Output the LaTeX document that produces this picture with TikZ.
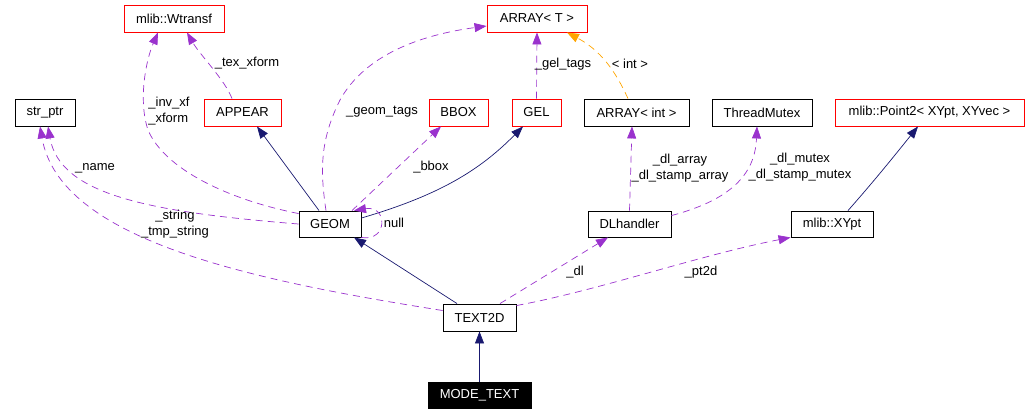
\documentclass[tikz,border=0pt]{standalone}
\usepackage{fontspec}
\setmainfont{Liberation Sans}
\usetikzlibrary{arrows.meta}
\definecolor{edgenavy}{HTML}{191970}
\definecolor{edgepurple}{HTML}{9A32CD}
\definecolor{edgeorange}{HTML}{FFA500}
\definecolor{boxred}{HTML}{FF0000}
\begin{document}
\begin{tikzpicture}[x=1pt,y=-1pt,
  font=\fontsize{13}{16}\selectfont,
  box/.style={draw=black,line width=0.9pt,fill=white,inner sep=0pt,minimum height=27pt},
  redbox/.style={box,draw=boxred},
  tip/.style={-{Triangle[length=12pt,width=9pt]}},
  inherit/.style={tip,draw=edgenavy,line width=0.7pt},
  usage/.style={tip,draw=edgepurple,line width=0.7pt,dash pattern=on 7pt off 5pt},
  templ/.style={tip,draw=edgeorange,line width=0.7pt,dash pattern=on 7pt off 5pt},
  lbl/.style={inner sep=0pt,align=center},
  lbll/.style={inner sep=0pt,align=left}]
\path[use as bounding box] (0,0) rectangle (1029,413);

% nodes
\node[redbox,minimum width=100pt] (wtransf) at (174,18.5) {mlib::Wtransf};
\node[redbox,minimum width=100pt] (arrayT) at (537,18.5) {ARRAY< T >};
\node[box,minimum width=60pt] (strptr) at (45,112.5) {str\_ptr};
\node[redbox,minimum width=77pt] (appear) at (242.5,112.5) {APPEAR};
\node[redbox,minimum width=59pt] (bbox) at (458.5,112.5) {BBOX};
\node[redbox,minimum width=49pt] (gel) at (536.5,112.5) {GEL};
\node[box,minimum width=105pt] (arrayint) at (636.5,112.5) {ARRAY< int >};
\node[box,minimum width=100pt] (threadmutex) at (762,112.5) {ThreadMutex};
\node[redbox,minimum width=189pt] (point2) at (929.5,112.5) {mlib::Point2< XYpt, XYvec >};
\node[box,minimum width=62pt,minimum height=26pt] (geom) at (330,224) {GEOM};
\node[box,minimum width=83pt,minimum height=26pt] (dlhandler) at (629.5,224) {DLhandler};
\node[box,minimum width=82pt,minimum height=26pt] (xypt) at (832,224) {mlib::XYpt};
\node[box,minimum width=73pt] (text2d) at (479.5,317.5) {TEXT2D};
\node[box,fill=black,text=white,minimum width=103pt,minimum height=26pt] (modetext) at (479.5,395) {MODE\_TEXT};

% inheritance edges
\draw[inherit] (modetext.north) -- (text2d.south);
\draw[inherit] ([xshift=-22.5pt]text2d.north) -- ([xshift=24pt]geom.south);
\draw[inherit] ([xshift=-11pt]geom.north) -- ([xshift=14.5pt]appear.south);
\draw[inherit] ([yshift=6pt]geom.east) .. controls (440,195) and (480,170) .. ([xshift=-13.5pt]gel.south);
\draw[inherit] ([xshift=16pt]xypt.north) .. controls (875,180) and (895,155) .. ([xshift=-11.5pt]point2.south);

% usage edges
\draw[usage] ([yshift=-3pt]geom.north west) .. controls (230,200) and (165,170) .. (148,130)
  .. controls (138,100) and (146,60) .. ([xshift=-16pt]wtransf.south);
\draw[usage] ([xshift=-10.5pt]appear.north) .. controls (225,80) and (200,55) .. ([xshift=13pt]wtransf.south);
\draw[usage] (geom.west) .. controls (150,212) and (60,195) .. ([xshift=3pt]strptr.south);
\draw[usage] ([yshift=7pt]text2d.west) .. controls (250,280) and (60,240) .. ([xshift=-5pt]strptr.south);
\draw[usage] ([xshift=-4pt]geom.north) .. controls (320,170) and (320,140) .. (340,100)
  .. controls (365,55) and (420,35) .. ([yshift=-7.5pt]arrayT.west);
\draw[usage] ([xshift=22pt]geom.north) -- ([xshift=-17.5pt]bbox.south);
\draw[usage] (geom.south east) .. controls (388,242) and (388,205) .. ([xshift=24pt]geom.north);
\draw[usage] (gel.north) -- (arrayT.south);
\draw[usage] ([xshift=20.5pt]text2d.north) -- ([xshift=-21.5pt]dlhandler.south);
\draw[usage] ([yshift=-2pt]text2d.north east) .. controls (600,290) and (700,255) .. (xypt.south west);
\draw[usage] (dlhandler.north) -- ([xshift=-4.5pt]arrayint.south);
\draw[usage] ([yshift=-5pt]dlhandler.north east) .. controls (730,200) and (755,175) .. ([xshift=-5pt]threadmutex.south);
\draw[templ] ([xshift=-8.5pt]arrayint.north) .. controls (615,70) and (600,50) .. ([xshift=30pt]arrayT.south);

% labels
\node[lbll] (linvxf) at (169,111.5) {\_inv\_xf\\\_xform};
\node[lbl] (ltex) at (247,63) {\_tex\_xform};
\node[lbl] (lname) at (95,168) {\_name};
\node[lbl] (lstring) at (175,224) {\_string\\\_tmp\_string};
\node[lbl] (lgeomtags) at (382,112) {\_geom\_tags};
\node[lbl] (lbbox) at (431,167) {\_bbox};
\node[lbl] (lnull) at (394,223) {null};
\node[lbl] (lgeltags) at (563,64) {\_gel\_tags};
\node[lbl] (lint) at (630,64) {< int >};
\node[lbl] (ldlarray) at (680,168) {\_dl\_array\\\_dl\_stamp\_array};
\node[lbl] (ldlmutex) at (800,167) {\_dl\_mutex\\\_dl\_stamp\_mutex};
\node[lbl] (ldl) at (575,272) {\_dl};
\node[lbl] (lpt2d) at (701,272) {\_pt2d};
\end{tikzpicture}
\end{document}
